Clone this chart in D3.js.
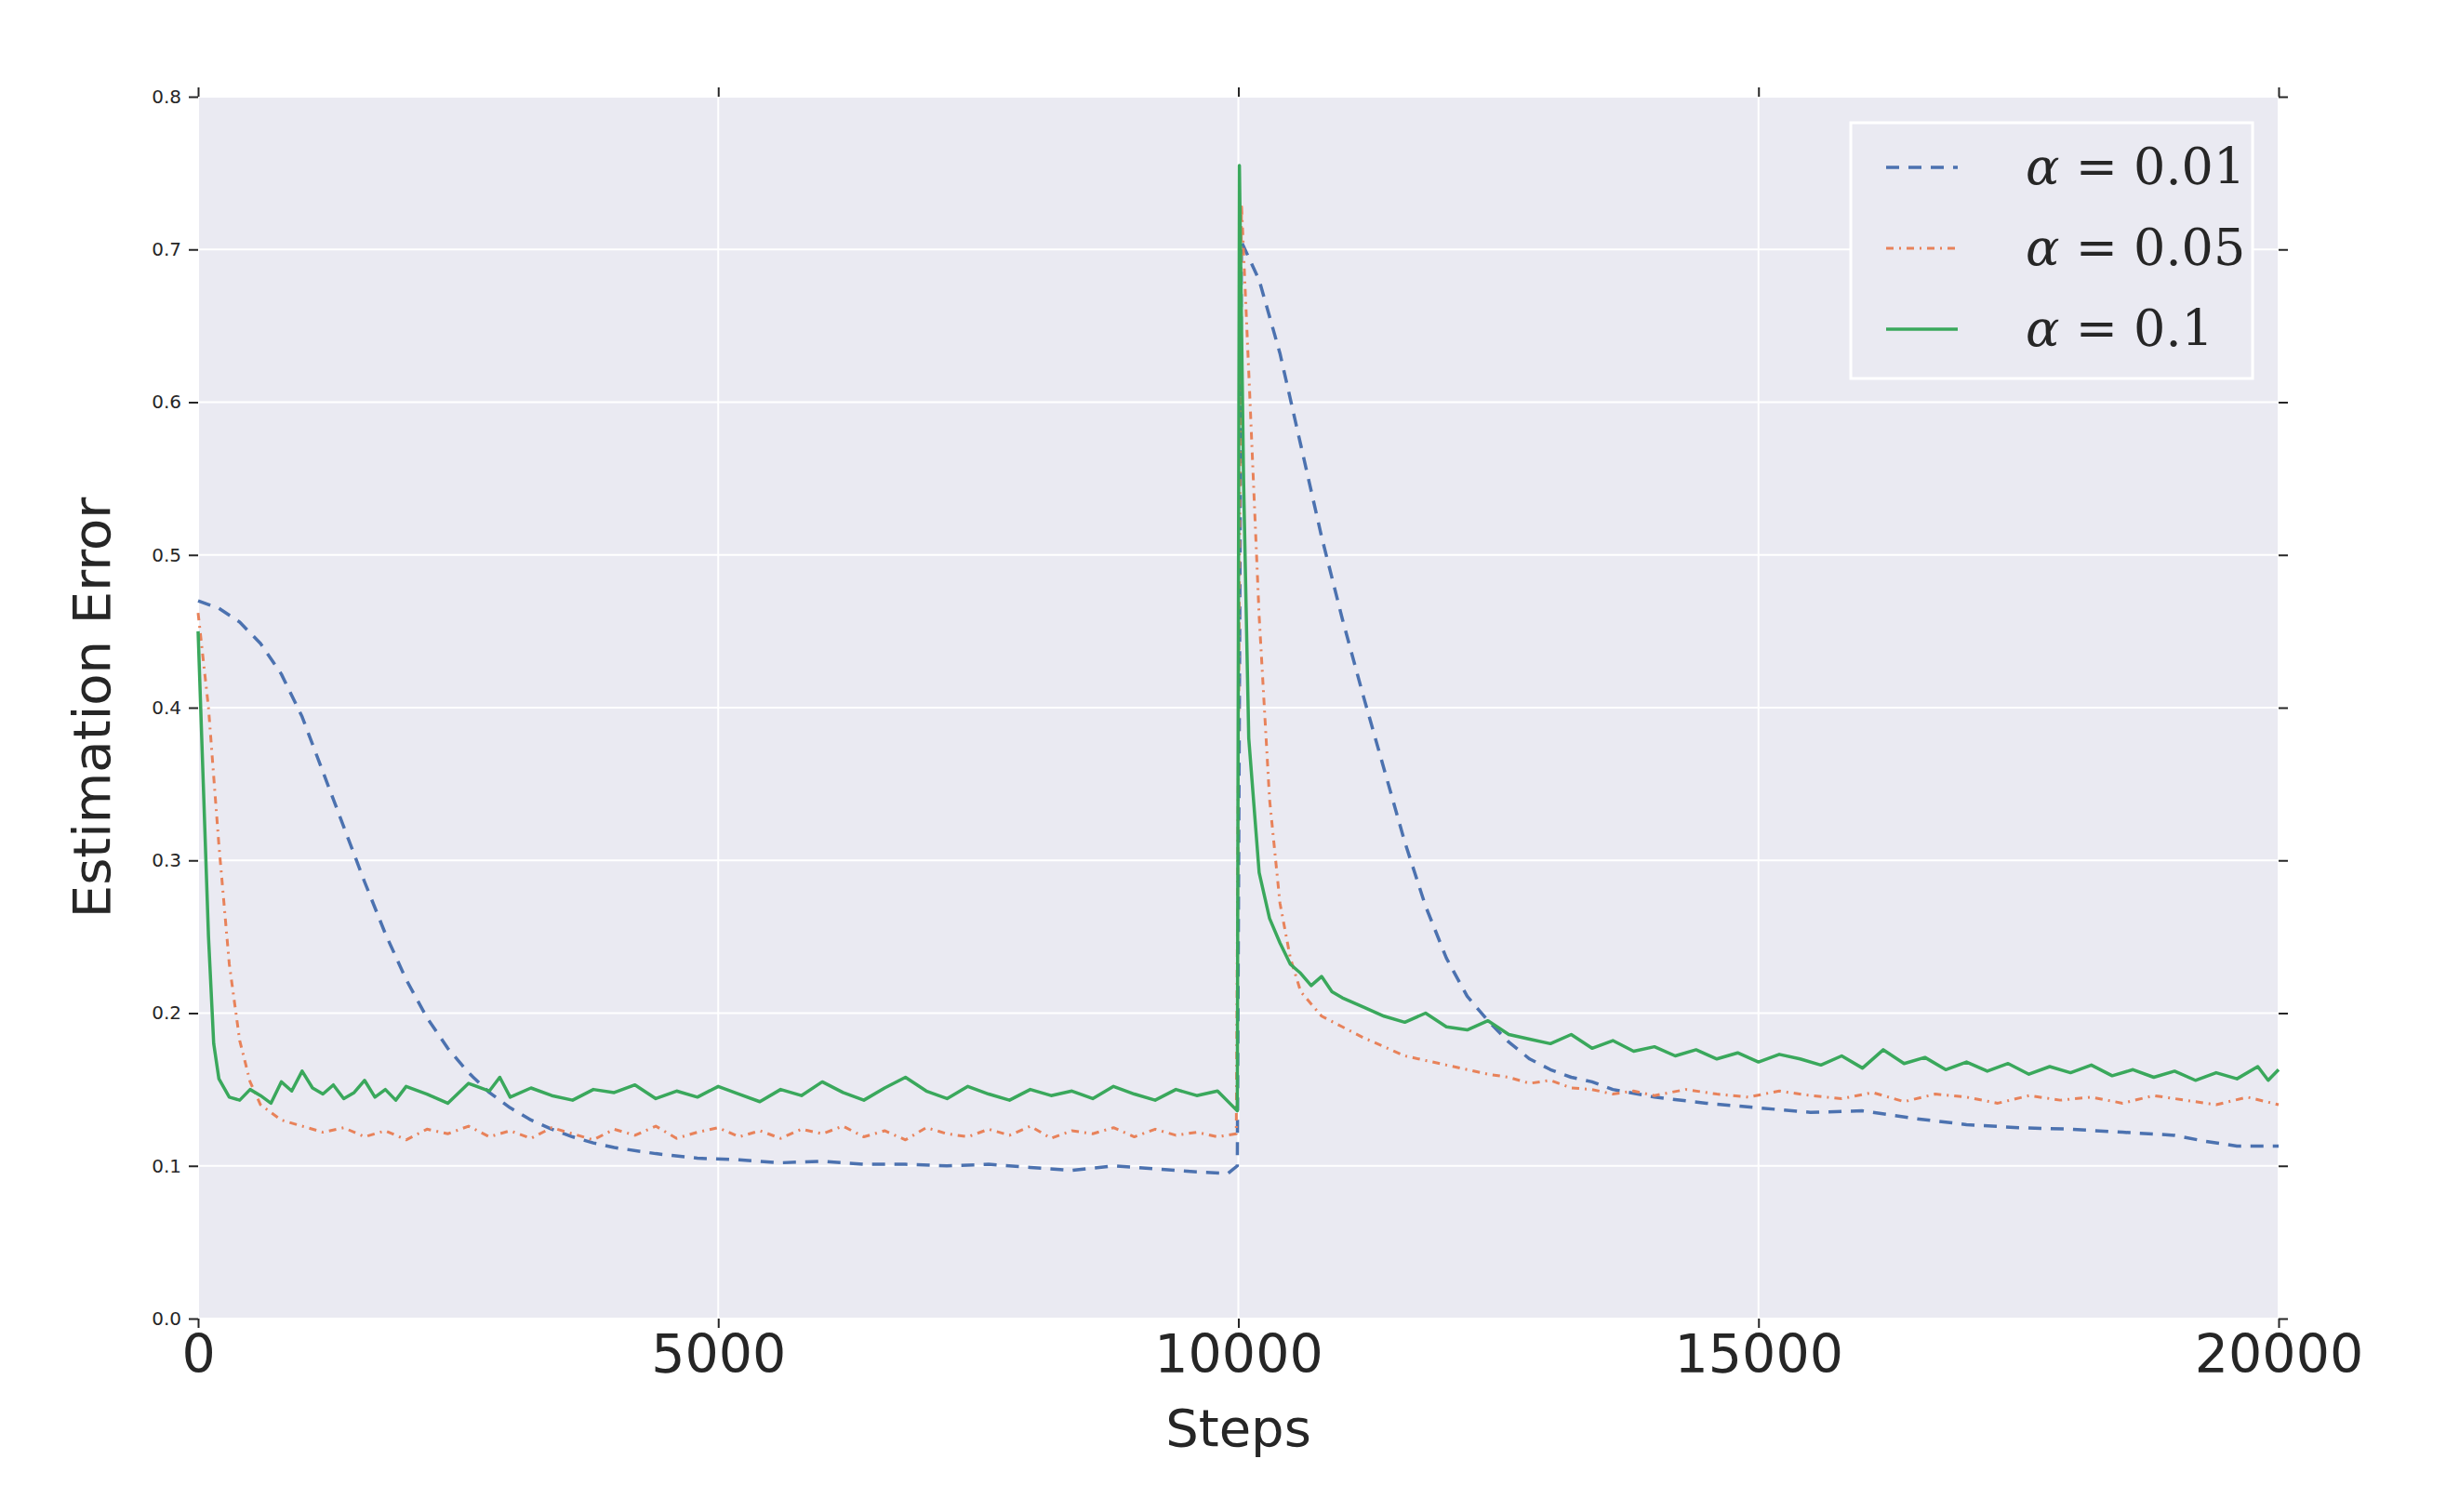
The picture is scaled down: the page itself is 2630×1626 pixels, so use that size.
<!DOCTYPE html>
<html>
<head>
<script src="https://d3js.org/d3.v7.min.js"></script>
<style>
body { margin: 0; background: #fff; }
text { font-family: "DejaVu Sans", sans-serif; fill: #262626; }
</style>
</head>
<body>
<svg width="2630" height="1626"></svg>
<script>
// data: [step, error]
var labels = ["0.01", "0.05", "0.1"];
var xTicks = [0, 5000, 10000, 15000, 20000];
var yTicks = [0.0, 0.1, 0.2, 0.3, 0.4, 0.5, 0.6, 0.7, 0.8];

var blue = [[0,.470],[200,.465],[400,.456],[600,.442],[800,.422],[1000,.394],[1200,.358],[1400,.322],[1600,.286],[1800,.252],[2000,.222],[2200,.197],[2400,.177],[2600,.161],[2800,.148],[3000,.138],[3200,.130],[3400,.124],[3600,.119],[3800,.115],[4000,.112],[4400,.108],[4800,.105],[5200,.104],[5600,.102],[6000,.103],[6400,.101],[6800,.101],[7200,.100],[7600,.101],[8000,.099],[8400,.097],[8800,.100],[9200,.098],[9600,.096],[9900,.095],[9990,.100],[10030,.705],[10200,.680],[10400,.632],[10600,.572],[10800,.512],[11000,.458],[11200,.408],[11400,.360],[11600,.312],[11800,.270],[12000,.236],[12200,.211],[12400,.195],[12600,.181],[12800,.170],[13000,.163],[13200,.158],[13400,.155],[13600,.150],[14000,.145],[14500,.141],[15000,.138],[15500,.135],[16000,.136],[16500,.131],[17000,.127],[17500,.125],[18000,.124],[18500,.122],[19000,.120],[19300,.116],[19600,.113],[20000,.113]];

var orange = [[0,.462],[100,.400],[200,.310],[300,.232],[400,.182],[500,.155],[600,.140],[800,.130],[1000,.126],[1200,.122],[1400,.125],[1600,.119],[1800,.123],[2000,.117],[2200,.124],[2400,.121],[2600,.126],[2800,.119],[3000,.123],[3200,.118],[3400,.125],[3600,.121],[3800,.117],[4000,.124],[4200,.120],[4400,.126],[4600,.118],[4800,.122],[5000,.125],[5200,.119],[5400,.123],[5600,.118],[5800,.124],[6000,.121],[6200,.126],[6400,.119],[6600,.123],[6800,.117],[7000,.125],[7200,.121],[7400,.119],[7600,.124],[7800,.120],[8000,.126],[8200,.118],[8400,.123],[8600,.121],[8800,.125],[9000,.119],[9200,.124],[9400,.120],[9600,.122],[9800,.119],[9980,.121],[10030,.730],[10100,.620],[10200,.460],[10300,.340],[10400,.272],[10500,.236],[10600,.214],[10800,.198],[11000,.191],[11200,.184],[11400,.178],[11600,.172],[11800,.169],[12000,.166],[12200,.163],[12400,.160],[12600,.158],[12800,.154],[13000,.156],[13200,.151],[13400,.150],[13600,.147],[13800,.149],[14000,.146],[14300,.150],[14600,.147],[14900,.145],[15200,.149],[15500,.146],[15800,.144],[16100,.148],[16400,.142],[16700,.147],[17000,.145],[17300,.141],[17600,.146],[17900,.143],[18200,.145],[18500,.141],[18800,.146],[19100,.143],[19400,.140],[19700,.145],[20000,.140]];

var green = [[0,.450],[50,.350],[100,.250],[150,.180],[200,.157],[300,.145],[400,.143],[500,.150],[600,.146],[700,.141],[800,.155],[900,.149],[1000,.162],[1100,.151],[1200,.147],[1300,.153],[1400,.144],[1500,.148],[1600,.156],[1700,.145],[1800,.150],[1900,.143],[2000,.152],[2200,.147],[2400,.141],[2600,.154],[2800,.149],[2900,.158],[3000,.145],[3200,.151],[3400,.146],[3600,.143],[3800,.150],[4000,.148],[4200,.153],[4400,.144],[4600,.149],[4800,.145],[5000,.152],[5200,.147],[5400,.142],[5600,.150],[5800,.146],[6000,.155],[6200,.148],[6400,.143],[6600,.151],[6800,.158],[7000,.149],[7200,.144],[7400,.152],[7600,.147],[7800,.143],[8000,.150],[8200,.146],[8400,.149],[8600,.144],[8800,.152],[9000,.147],[9200,.143],[9400,.150],[9600,.146],[9800,.149],[9990,.136],[10010,.755],[10050,.550],[10100,.380],[10200,.292],[10300,.262],[10400,.246],[10500,.232],[10600,.226],[10700,.218],[10800,.224],[10900,.214],[11000,.210],[11200,.204],[11400,.198],[11600,.194],[11800,.200],[12000,.191],[12200,.189],[12400,.195],[12600,.186],[12800,.183],[13000,.180],[13200,.186],[13400,.177],[13600,.182],[13800,.175],[14000,.178],[14200,.172],[14400,.176],[14600,.170],[14800,.174],[15000,.168],[15200,.173],[15400,.170],[15600,.166],[15800,.172],[16000,.164],[16200,.176],[16400,.167],[16600,.171],[16800,.163],[17000,.168],[17200,.162],[17400,.167],[17600,.160],[17800,.165],[18000,.161],[18200,.166],[18400,.159],[18600,.163],[18800,.158],[19000,.162],[19200,.156],[19400,.161],[19600,.157],[19800,.165],[19900,.156],[20000,.163]];

var series = [
  {data: blue, color: "#4c72b0", dash: "14,10", width: 3.5},
  {data: orange, color: "#e8825a", dash: "8,6,2,6", width: 3},
  {data: green, color: "#3aa85c", dash: null, width: 3.5}
];

var L = 213, R = 2450, T = 104, B = 1418;
var svg = d3.select("svg");
var x = d3.scaleLinear().domain([0, 20000]).range([L, R]);
var y = d3.scaleLinear().domain([0, 0.8]).range([B, T]);

svg.append("rect").attr("x", L).attr("y", T).attr("width", R - L).attr("height", B - T).attr("fill", "#eaeaf2");

// grid
svg.append("g").selectAll("line").data(xTicks).enter().append("line")
  .attr("x1", d => x(d)).attr("x2", d => x(d)).attr("y1", T).attr("y2", B)
  .attr("stroke", "#fff").attr("stroke-width", 2);
svg.append("g").selectAll("line").data(yTicks).enter().append("line")
  .attr("x1", L).attr("x2", R).attr("y1", d => y(d)).attr("y2", d => y(d))
  .attr("stroke", "#fff").attr("stroke-width", 2);

// axes
var xb = svg.append("g").attr("transform", "translate(0," + B + ")")
  .call(d3.axisBottom(x).tickValues(xTicks).tickSize(10).tickPadding(8).tickFormat(d3.format("d")));
var xt = svg.append("g").attr("transform", "translate(0," + T + ")")
  .call(d3.axisTop(x).tickValues(xTicks).tickSize(10).tickFormat(""));
var yl = svg.append("g").attr("transform", "translate(" + L + ",0)")
  .call(d3.axisLeft(y).tickValues(yTicks).tickSize(10).tickPadding(8).tickFormat(d3.format(".1f")));
var yr = svg.append("g").attr("transform", "translate(" + R + ",0)")
  .call(d3.axisRight(y).tickValues(yTicks).tickSize(10).tickFormat(""));
[xb, xt, yl, yr].forEach(g => {
  g.select(".domain").remove();
  g.selectAll(".tick line").attr("stroke", "#262626").attr("stroke-width", 2);
});
xb.selectAll("text").style("font-size", "57px").attr("fill", "#262626");
yl.selectAll("text").style("font-size", "20px").attr("fill", "#262626");

svg.append("text").attr("x", (L + R) / 2).attr("y", 1555).attr("text-anchor", "middle")
  .style("font-size", "56px").text("Steps");
svg.append("text").attr("transform", "translate(118," + (T + B) / 2 + ") rotate(-90)")
  .attr("text-anchor", "middle").style("font-size", "56px").text("Estimation Error");

// lines
var line = d3.line().x(d => x(d[0])).y(d => y(d[1]));
series.forEach(s => {
  svg.append("path").datum(s.data).attr("d", line).attr("fill", "none")
    .attr("stroke", s.color).attr("stroke-width", s.width)
    .attr("stroke-dasharray", s.dash).attr("stroke-linejoin", "round");
});

// legend
var lg = svg.append("g");
lg.append("rect").attr("x", 1990).attr("y", 132).attr("width", 432).attr("height", 275)
  .attr("fill", "#eaeaf2").attr("stroke", "#fff").attr("stroke-width", 3);
series.forEach((s, i) => {
  var yy = 180 + i * 87;
  lg.append("line").attr("x1", 2028).attr("x2", 2105).attr("y1", yy).attr("y2", yy)
    .attr("stroke", s.color).attr("stroke-width", s.width).attr("stroke-dasharray", s.dash);
  var t = lg.append("text").attr("x", 2178).attr("y", yy + 18)
    .style("font-family", "'DejaVu Serif', serif").style("font-size", "54px");
  t.append("tspan").style("font-style", "italic").text("α");
  t.append("tspan").text(" = " + labels[i]);
});
</script>
</body>
</html>
